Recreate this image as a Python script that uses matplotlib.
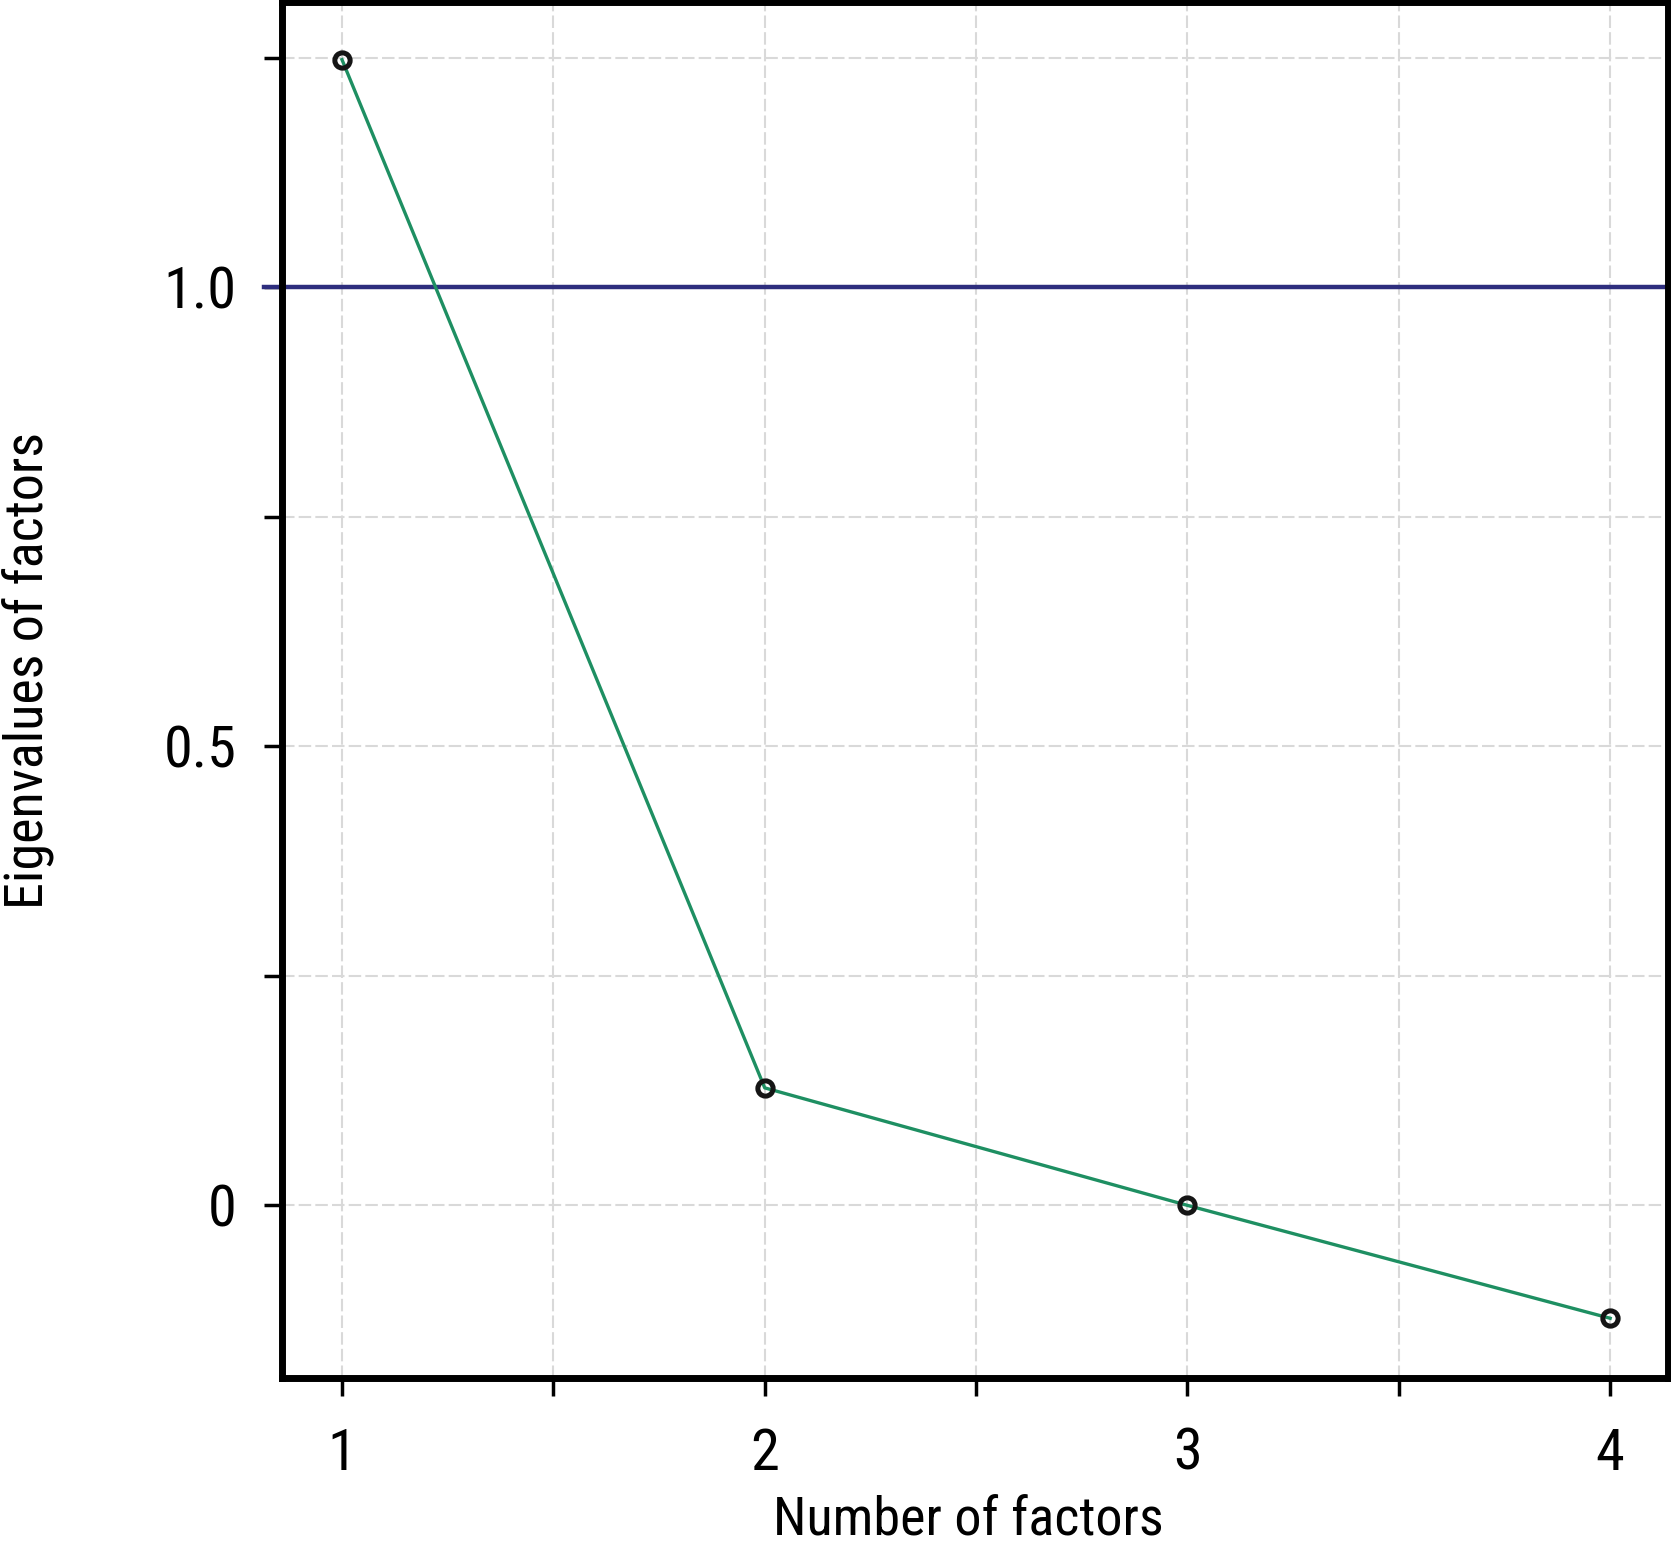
import matplotlib
matplotlib.use('Agg')
import matplotlib.pyplot as plt

# scree plot data
factors = [1, 2, 3, 4]
eigenvalues = [1.248, 0.128, 0.0, -0.123]
threshold = 1.0

x_ticks = [1, 1.5, 2, 2.5, 3, 3.5, 4]
x_labels = ['1', '', '2', '', '3', '', '4']
y_ticks = [0, 0.25, 0.5, 0.75, 1.0, 1.25]
y_labels = ['0', '', '0.5', '', '1.0', '']

plt.rcParams['font.family'] = ['Roboto Condensed', 'Liberation Sans Narrow', 'Roboto', 'DejaVu Sans']

fig = plt.figure(figsize=(16.71, 15.41), dpi=100)
ax = fig.add_axes([0.169, 0.1058, 0.829, 0.893])

ax.set_xlim(0.859, 4.136)
ax.set_ylim(-0.188, 1.311)

ax.set_xticks(x_ticks)
ax.set_xticklabels(x_labels)
ax.set_yticks(y_ticks)
ax.set_yticklabels(y_labels)

ax.grid(True, color='#d9d9d9', linestyle=(0, (6, 2)), linewidth=1.5, zorder=0)
ax.set_axisbelow(True)

ax.axhline(threshold, xmin=-0.013, xmax=1, color='#2e2e7e', linewidth=3.2,
           clip_on=False, zorder=2)
ax.plot(factors, eigenvalues, color='#1e8f62', linewidth=2.4, marker='o',
        markersize=11, markerfacecolor='none', markeredgecolor='#151515',
        markeredgewidth=3.6, zorder=3)

for s in ax.spines.values():
    s.set_linewidth(5)
    s.set_color('black')

ax.tick_params(axis='both', direction='out', length=13, width=2.5,
               labelsize=42, color='black')
ax.tick_params(axis='y', pad=20)
ax.tick_params(axis='x', pad=22)

ax.set_xlabel('Number of factors', fontsize=39)
ax.set_ylabel('Eigenvalues of factors', fontsize=39)
ax.xaxis.set_label_coords(0.495, -0.0855)
ax.yaxis.set_label_coords(-0.164, 0.514)

fig.savefig('out.png', dpi=100)
